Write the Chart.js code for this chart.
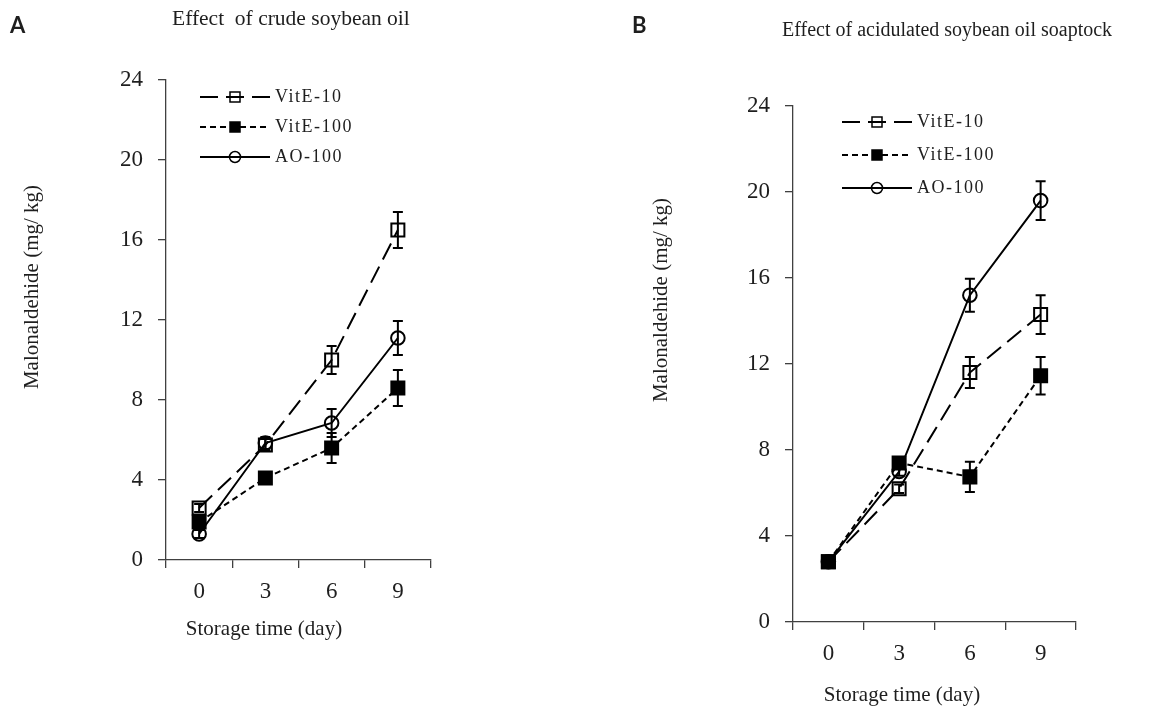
<!DOCTYPE html>
<html>
<head>
<meta charset="utf-8">
<script src="https://cdn.jsdelivr.net/npm/chart.js@4"></script>
<style>
  html, body { margin: 0; padding: 0; background: #fff; }
  #wrap { position: relative; width: 1157px; height: 711px; overflow: hidden; }
  canvas { position: absolute; top: 0; }
</style>
</head>
<body>
<div id="wrap">
  <canvas id="chartA" width="578" height="711" style="left:0"></canvas>
  <canvas id="chartB" width="579" height="711" style="left:578px"></canvas>
</div>
<script>
var days = ["0", "3", "6", "9"];
var seriesNames = ["VitE-10", "VitE-100", "AO-100"];
var yTicks = [0, 4, 8, 12, 16, 20, 24];

// A: crude soybean oil
var crudeVitE10 = [2.6, 5.75, 10.0, 16.5];
var crudeVitE10Err = [0.2, 0.3, 0.7, 0.9];
var crudeVitE100 = [1.9, 4.1, 5.6, 8.6];
var crudeVitE100Err = [0.2, 0.2, 0.75, 0.9];
var crudeAO100 = [1.3, 5.85, 6.85, 11.1];
var crudeAO100Err = [0.2, 0.3, 0.7, 0.85];

// B: acidulated soybean oil soapstock
var acidVitE10 = [2.8, 6.2, 11.6, 14.3];
var acidVitE10Err = [0.1, 0.2, 0.72, 0.9];
var acidVitE100 = [2.8, 7.4, 6.75, 11.45];
var acidVitE100Err = [0.1, 0.2, 0.7, 0.87];
var acidAO100 = [2.8, 7.0, 15.2, 19.6];
var acidAO100Err = [0.1, 0.2, 0.77, 0.9];

var SERIF = '"Liberation Serif", "Times New Roman", serif';
var TEXT = "#1e1e1e";
var AXIS = "#404040";

var seriesStyle = [
  { dash: [18, 8], point: "rect", fill: "rgba(0,0,0,0)", radius: 9.2 },
  { dash: [6, 4], point: "rect", fill: "#000", radius: 9.2 },
  { dash: [], point: "circle", fill: "rgba(0,0,0,0)", radius: 6.8 }
];

function buildDatasets(values, errors) {
  return values.map(function (v, i) {
    var s = seriesStyle[i];
    return {
      label: seriesNames[i],
      data: v,
      errors: errors[i],
      borderColor: "#000",
      borderWidth: 2,
      borderDash: s.dash,
      tension: 0,
      pointStyle: s.point,
      pointRadius: s.radius,
      pointBorderWidth: 2,
      pointBorderColor: "#000",
      pointBackgroundColor: s.fill,
      fill: false
    };
  });
}

var errorBars = {
  id: "errorBars",
  afterDatasetsDraw: function (chart) {
    var ctx = chart.ctx;
    var yScale = chart.scales.y;
    ctx.save();
    ctx.strokeStyle = "#000";
    ctx.lineWidth = 2;
    ctx.setLineDash([]);
    chart.data.datasets.forEach(function (ds, i) {
      var meta = chart.getDatasetMeta(i);
      meta.data.forEach(function (pt, j) {
        var e = ds.errors[j];
        var hi = yScale.getPixelForValue(ds.data[j] + e);
        var lo = yScale.getPixelForValue(ds.data[j] - e);
        ctx.beginPath();
        ctx.moveTo(pt.x, hi); ctx.lineTo(pt.x, lo);
        ctx.moveTo(pt.x - 5, hi); ctx.lineTo(pt.x + 5, hi);
        ctx.moveTo(pt.x - 5, lo); ctx.lineTo(pt.x + 5, lo);
        ctx.stroke();
      });
    });
    ctx.restore();
  }
};

function makeChart(canvas, values, errors, cfg) {
  var sketchLegend = {
    id: "sketchLegend",
    afterDraw: function (chart) {
      var ctx = chart.ctx;
      var area = chart.chartArea;
      chart.data.datasets.forEach(function (ds, i) {
        var s = seriesStyle[i];
        var x0 = area.left + cfg.legend.x;
        var y = area.top + cfg.legend.y + i * cfg.legend.gap;
        ctx.save();
        ctx.strokeStyle = "#000";
        ctx.lineWidth = 2;
        ctx.setLineDash(s.dash);
        ctx.beginPath();
        ctx.moveTo(x0, y);
        ctx.lineTo(x0 + 70, y);
        ctx.stroke();
        ctx.setLineDash([]);
        ctx.lineWidth = 1.5;
        var mx = x0 + 35;
        ctx.beginPath();
        if (s.point === "rect") ctx.rect(mx - 5, y - 5, 10, 10);
        else ctx.arc(mx, y, 5.5, 0, Math.PI * 2);
        if (s.fill === "#000") { ctx.fillStyle = "#000"; ctx.fill(); }
        ctx.stroke();
        ctx.fillStyle = TEXT;
        ctx.font = "18px " + SERIF;
        ctx.letterSpacing = "1.5px";
        ctx.textBaseline = "middle";
        ctx.textAlign = "left";
        ctx.fillText(ds.label, x0 + 75, y);
        ctx.restore();
      });
    }
  };

  var panelText = {
    id: "panelText",
    afterDraw: function (chart) {
      var ctx = chart.ctx;
      cfg.texts.forEach(function (t) {
        ctx.save();
        ctx.font = t.font;
        ctx.fillStyle = TEXT;
        ctx.textAlign = t.align || "left";
        ctx.textBaseline = "alphabetic";
        ctx.translate(t.x, t.y);
        if (t.rotate) ctx.rotate(t.rotate);
        ctx.fillText(t.text, 0, 0);
        ctx.restore();
      });
    }
  };

  return new Chart(canvas.getContext("2d"), {
    type: "line",
    data: { labels: days, datasets: buildDatasets(values, errors) },
    options: {
      responsive: false,
      animation: false,
      layout: { padding: cfg.padding },
      plugins: { legend: { display: false }, title: { display: false }, tooltip: { enabled: false } },
      scales: {
        x: {
          type: "category",
          offset: true,
          border: { display: true, color: AXIS, width: 1.3 },
          grid: { offset: true, drawOnChartArea: false, drawTicks: true, tickLength: 8, color: AXIS, lineWidth: 1.3 },
          ticks: { color: TEXT, padding: 10, font: { family: SERIF, size: 23 } },
          afterFit: function (scale) { scale.height = cfg.xHeight; }
        },
        y: {
          min: yTicks[0],
          max: yTicks[yTicks.length - 1],
          border: { display: true, color: AXIS, width: 1.3 },
          grid: { drawOnChartArea: false, drawTicks: true, tickLength: 8, color: AXIS, lineWidth: 1.3 },
          ticks: { stepSize: yTicks[1] - yTicks[0], color: TEXT, padding: 15, font: { family: SERIF, size: 23 } },
          afterFit: function (scale) { scale.width = cfg.yWidth; }
        }
      }
    },
    plugins: [errorBars, sketchLegend, panelText]
  });
}

document.addEventListener("DOMContentLoaded", function () {
  makeChart(
    document.getElementById("chartA"),
    [crudeVitE10, crudeVitE100, crudeAO100],
    [crudeVitE10Err, crudeVitE100Err, crudeAO100Err],
    {
      padding: { left: 0, top: 80, right: 147, bottom: 0 },
      yWidth: 166,
      xHeight: 151,
      legend: { x: 34, y: 17, gap: 30 },
      texts: [
        { text: "A", x: 10, y: 33, font: "bold 22px Lato, sans-serif" },
        { text: "Effect  of crude soybean oil", x: 172, y: 25, font: "21.5px " + SERIF },
        { text: "Storage time (day)", x: 264, y: 635, align: "center", font: "21px " + SERIF },
        { text: "Malonaldehide (mg/ kg)", x: 37.5, y: 287, align: "center", rotate: -Math.PI / 2, font: "21px " + SERIF }
      ]
    }
  );

  makeChart(
    document.getElementById("chartB"),
    [acidVitE10, acidVitE100, acidAO100],
    [acidVitE10Err, acidVitE100Err, acidAO100Err],
    {
      padding: { left: 0, top: 106, right: 81, bottom: 0 },
      yWidth: 215,
      xHeight: 89,
      legend: { x: 49, y: 16, gap: 33 },
      texts: [
        { text: "B", x: 54, y: 33, font: "bold 22px Lato, sans-serif" },
        { text: "Effect of acidulated soybean oil soaptock", x: 204, y: 36, font: "20px " + SERIF },
        { text: "Storage time (day)", x: 324, y: 701, align: "center", font: "21px " + SERIF },
        { text: "Malonaldehide (mg/ kg)", x: 89, y: 300, align: "center", rotate: -Math.PI / 2, font: "21px " + SERIF }
      ]
    }
  );
});
</script>
</body>
</html>
